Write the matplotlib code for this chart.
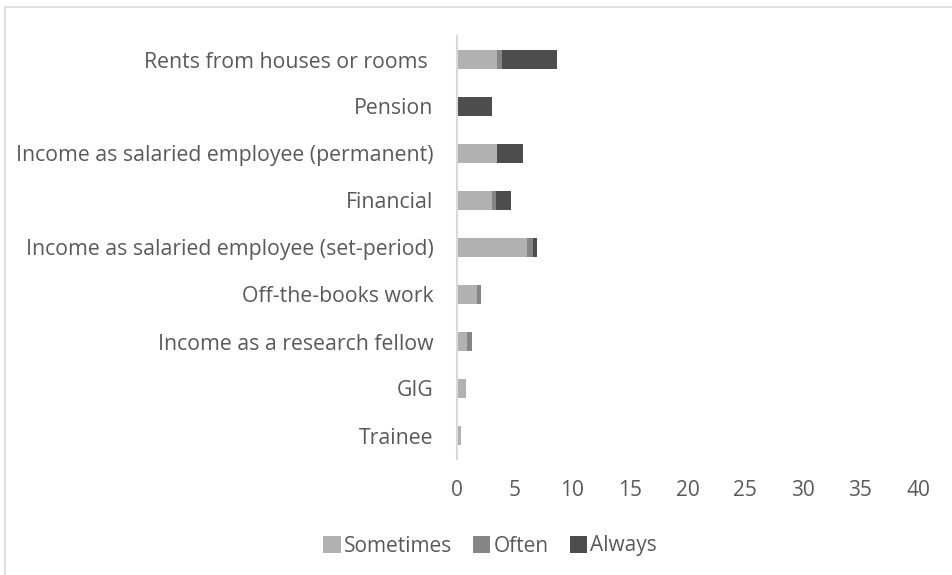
import matplotlib
matplotlib.use("Agg")
import matplotlib.pyplot as plt
from matplotlib.patches import Rectangle
import numpy as np

categories = [
    "Rents from houses or rooms ",
    "Pension",
    "Income as salaried employee (permanent)",
    "Financial",
    "Income as salaried employee (set-period)",
    "Off-the-books work",
    "Income as a research fellow",
    "GIG",
    "Trainee",
]
sometimes = [3.5, 0.0, 3.5, 3.0, 6.1, 1.7, 0.9, 0.8, 0.35]
often     = [0.4, 0.0, 0.0, 0.4, 0.5, 0.4, 0.4, 0.0, 0.0]
always    = [4.8, 3.0, 2.2, 1.3, 0.35, 0.0, 0.0, 0.0, 0.0]
series_names = ["Sometimes", "Often", "Always"]
colors = ["#b1b1b1", "#858585", "#4d4d4d"]
x_ticks = [0, 5, 10, 15, 20, 25, 30, 35, 40]

plt.rcParams["font.family"] = ["Open Sans", "DejaVu Sans"]
text_color = "#595959"

W, H = 953, 575
fig = plt.figure(figsize=(W / 100, H / 100), dpi=100)
ax = fig.add_axes([457 / W, 1 - 459 / H, (918 - 457) / W, (459 - 36) / H])

y = np.arange(len(categories))
left = np.zeros(len(categories))
for vals, name, c in zip([sometimes, often, always], series_names, colors):
    ax.barh(y, vals, left=left, height=0.4, color=c, label=name)
    left = left + np.array(vals)

ax.set_ylim(len(categories) - 0.5, -0.5)
ax.set_xlim(0, 40)
ax.set_xticks(x_ticks)
ax.set_yticks(y)
ax.set_yticklabels(categories)
ax.tick_params(axis="both", length=0, colors=text_color)
ax.tick_params(axis="y", labelsize=15.3, pad=17)
ax.tick_params(axis="x", labelsize=15, pad=15)
for s in ["top", "right", "bottom"]:
    ax.spines[s].set_visible(False)
ax.spines["left"].set_color("#d9d9d9")
ax.spines["left"].set_linewidth(1.5)

leg = fig.legend(loc="center", bbox_to_anchor=(490 / W, 1 - 546 / H), ncol=3,
                 frameon=False, handlelength=0.85, handleheight=0.85,
                 handletextpad=0.15, columnspacing=1.0, fontsize=15)
for t in leg.get_texts():
    t.set_color(text_color)

fig.patches.append(Rectangle((5 / W, -0.05), 1.1, 1 - 6.5 / H + 0.05,
                             transform=fig.transFigure, fill=False,
                             edgecolor="#d9d9d9", linewidth=1.2))

fig.savefig("out.png", dpi=100)
